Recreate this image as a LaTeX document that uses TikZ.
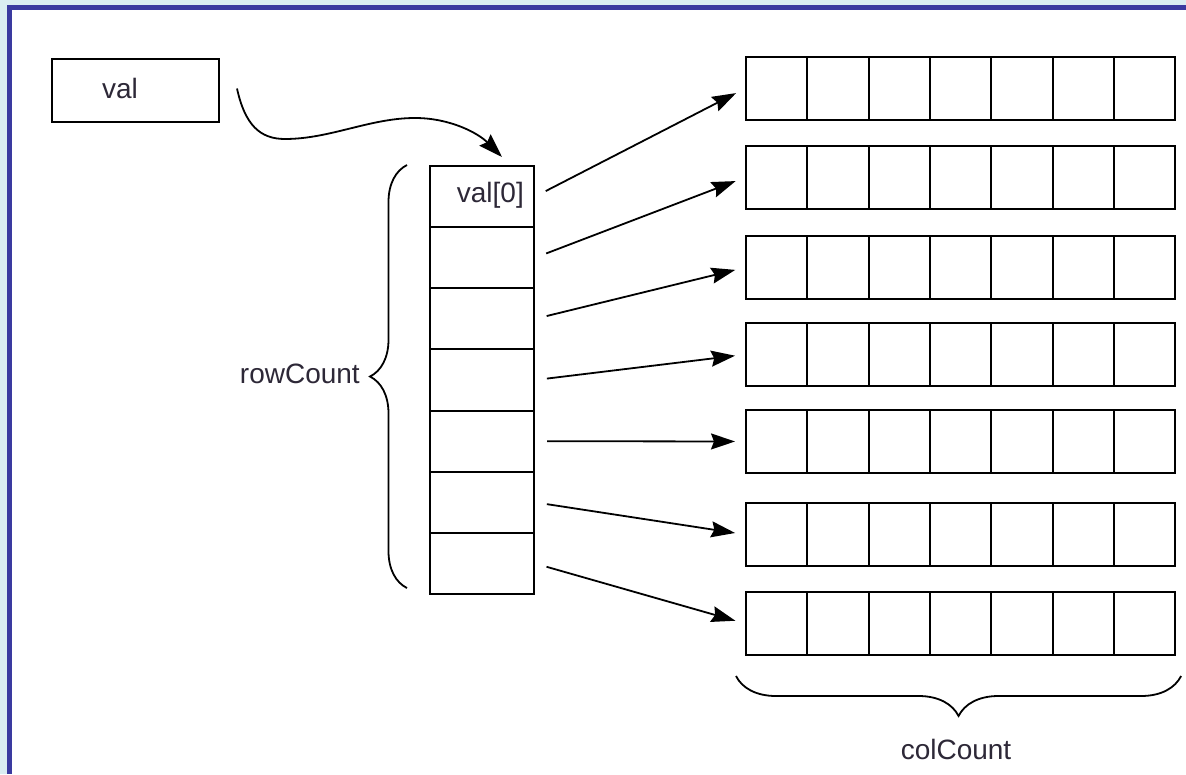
\documentclass[tikz,border=0pt]{standalone}
\usepackage{fontspec}
\setmainfont{Liberation Sans}
\usepackage{xcolor}
\usepackage{tikz}
\usetikzlibrary{arrows.meta,calc,decorations.pathreplacing,positioning}
\definecolor{framebg}{RGB}{218,237,242}
\definecolor{framebar}{RGB}{58,58,160}
\definecolor{txtcol}{RGB}{45,40,55}

\begin{document}
\begin{tikzpicture}[x=1pt,y=-1pt,
  cell/.style={draw, line width=2pt, inner sep=0pt, minimum width=61.3pt, minimum height=63pt},
  slot/.style={draw, line width=2pt, inner sep=0pt, minimum width=104pt, minimum height=61.15pt},
  lbl/.style={text=txtcol, inner sep=0pt, font=\fontsize{28}{34}\selectfont},
  ptr/.style={line width=1.8pt, -{Stealth[length=24pt,width=16pt,inset=3pt]}},
  curly/.style={line width=1.8pt, decorate, decoration={brace, amplitude=#1}}]
  \useasboundingbox (0,0) rectangle (1186,774);
  \fill[framebg] (0,0) rectangle (1186,774);
  \fill[framebar] (7,5) rectangle (1186,774);
  \fill[white] (12,10) rectangle (1186,774);

  \node[draw, line width=2pt, inner sep=0pt, minimum width=167pt, minimum height=63pt] (val) at (135.5,90.5) {};
  \node[lbl] (valtxt) at (120,88) {val};

  \foreach \i in {0,...,6}
    \node[slot] (p\i) at (482,{166+61.15*(\i+0.5)}) {};
  \node[lbl, anchor=east] (p0txt) at (524,195) {val[0]};

  \foreach \r/\t in {0/57,1/146,2/236,3/323,4/410,5/503,6/592}
    \foreach \c in {0,...,6}
      \node[cell] (r\r-\c) at ({776.65+61.3*\c},{\t+31.5}) {};

  \foreach \i in {0,...,6}
    \draw[ptr, shorten <=12pt, shorten >=10pt] (p\i.east) -- (r\i-0.west);

  \coordinate (hook) at (502,157);
  \draw[ptr] ($(val.east)+(17,-2)$) .. controls (245,125) and (260,139) .. (285,139)
    .. controls (330,139) and (370,118) .. (415,118) .. controls (450,118) and (478,133) .. (hook);

  \draw[curly=37pt] ([xshift=-22pt,yshift=7pt]p6.south west) -- ([xshift=-22pt]p0.north west);
  \node[lbl, anchor=east] (rows) at (360,374) {rowCount};

  \draw[curly=40pt] ([xshift=5pt,yshift=-20pt]r6-6.south east) -- ([xshift=-9pt,yshift=-20pt]r6-0.south west);
  \node[lbl] (cols) at (956,749) {colCount};
\end{tikzpicture}
\end{document}
